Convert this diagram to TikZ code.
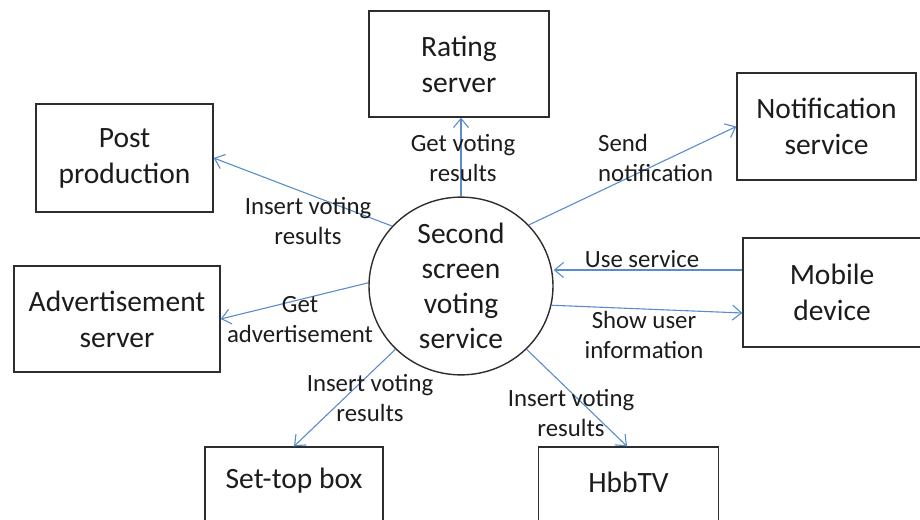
\documentclass[tikz,border=0pt]{standalone}
\usepackage{fontspec}
\setmainfont{Carlito}
\usetikzlibrary{arrows.meta,shapes.geometric}
\definecolor{flow}{RGB}{88,140,205}
\definecolor{edge}{RGB}{45,45,45}
\definecolor{ink}{RGB}{28,28,28}
\begin{document}
\begin{tikzpicture}[x=1pt,y=-1pt,
  box/.style={draw=edge,line width=1.4pt,fill=white,inner sep=0pt,align=center,
    text=ink,font=\fontsize{29.5}{36}\selectfont},
  hub/.style={ellipse,draw=edge,line width=1.4pt,inner sep=0pt,align=center,
    minimum width=184pt,minimum height=175pt,text=ink,font=\fontsize{29.5}{35}\selectfont},
  lbl/.style={inner sep=0pt,align=center,text=ink,font=\fontsize{24.8}{30}\selectfont},
  arr/.style={draw=flow,line width=1.1pt,-{Straight Barb[length=9pt,width=15pt,line width=1.1pt]}}]
\useasboundingbox (0,0) rectangle (920,519);

% outer systems
\node[box,minimum width=180pt,minimum height=106pt] (rating) at (459,64) {Rating\\server};
\node[box,minimum width=177pt,minimum height=108pt] (post) at (124.5,158) {Post\\production};
\node[box,minimum width=179pt,minimum height=107pt] (notif) at (826.5,126.5) {Notification\\service};
\node[box,minimum width=178pt,minimum height=109pt] (mobile) at (832,292.5) {Mobile\\device};
\node[box,minimum width=206pt,minimum height=106pt] (advert) at (117,319) {Advertisement\\server};
\node[box,minimum width=178pt,minimum height=107pt] (settop) at (294,500.5) {};
\node[box,minimum width=180pt,minimum height=107pt] (hbbtv) at (628.5,500.5) {};
\node[lbl,font=\fontsize{29.5}{36}\selectfont] (settoptxt) at (294,481) {Set-top box};
\node[lbl,font=\fontsize{29.5}{36}\selectfont] (hbbtvtxt) at (628.5,482) {HbbTV};

% central service
\node[hub] (hub) at (461,286) {Second\\screen\\voting\\service};

% connectors
\draw[arr] (hub.north) -- (hub.north |- rating.south);
\draw[arr] (hub.139) -- (post.east);
\draw[arr] (hub.42) -- (notif.west);
\path (mobile.west) ++(0,-22.5) coordinate (usein);
\path (mobile.west) ++(0,20.5) coordinate (showin);
\draw[arr] (usein) -- (usein -| hub.east);
\draw[arr] (hub.-12) -- (showin);
\draw[arr] (hub.178) -- (advert.east);
\draw[arr] (hub.224) -- (settop.north);
\draw[arr] (hub.316) -- ([xshift=-1.5pt]hbbtv.north);

% connector labels
\node[lbl] (lgv) at (463,158) {Get voting\\results};
\node[lbl,align=left,anchor=west] (lsn) at (598,158) {Send\\notification};
\node[lbl] (liv1) at (308,221) {Insert voting\\results};
\node[lbl] (lus) at (642,259) {Use service};
\node[lbl] (lsu) at (644,335) {Show user\\information};
\node[lbl] (lga) at (300,320) {Get\\advertisement};
\node[lbl] (liv2) at (370,398) {Insert voting\\results};
\node[lbl] (liv3) at (571,413) {Insert voting\\results};
\end{tikzpicture}
\end{document}
